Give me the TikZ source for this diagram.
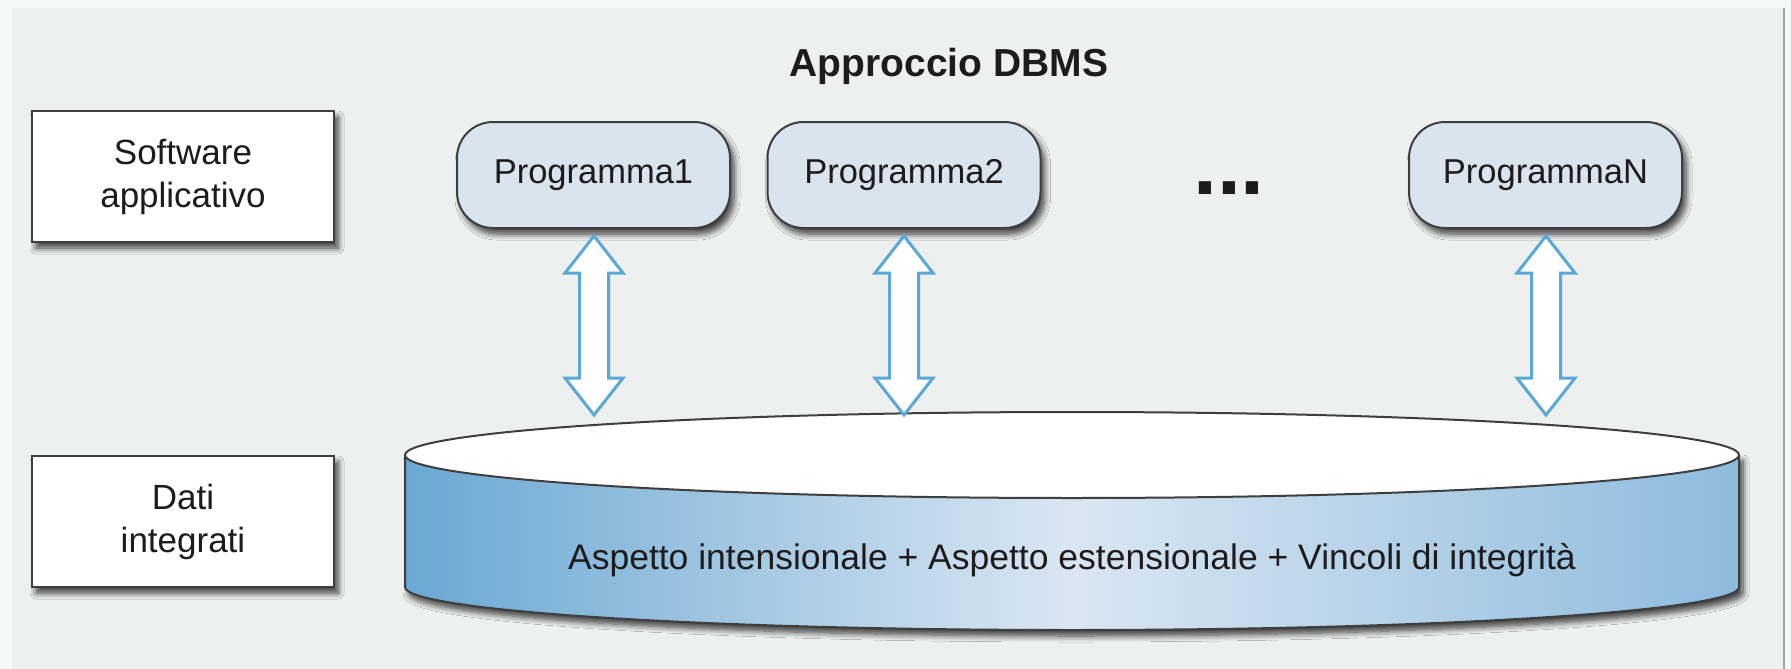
\documentclass[tikz,border=0pt]{standalone}
\usepackage{fontspec}
\setmainfont{Liberation Sans}
\usetikzlibrary{calc,shadows.blur}
\definecolor{outerbg}{HTML}{F6F7F7}
\definecolor{panelbg}{HTML}{EEF0EF}
\definecolor{progfill}{HTML}{D9E4EF}
\definecolor{arrowblue}{HTML}{5AA8D5}
\definecolor{txt}{HTML}{1E1B1C}
\definecolor{edgecol}{HTML}{3E3E3E}
\definecolor{cylleft}{HTML}{6AA8D3}
\definecolor{cylmid}{HTML}{DAE6F2}
\definecolor{cylright}{HTML}{8DBBDD}
\definecolor{rimcol}{HTML}{A3A5A5}
\newcommand\dblarrowpath[2]{%
  \draw[dblarrow] let \p1=($(#1.south)+(0,7)$), \p2=(#2) in
  (\x2,\y1) -- (\x2+29pt,\y1-37pt) -- (\x2+14.5pt,\y1-37pt) -- (\x2+14.5pt,\y2+37pt)
  -- (\x2+29pt,\y2+37pt) -- (\x2,\y2) -- (\x2-29pt,\y2+37pt) -- (\x2-14.5pt,\y2+37pt)
  -- (\x2-14.5pt,\y1-37pt) -- (\x2-29pt,\y1-37pt) -- cycle;}
\begin{document}
\begin{tikzpicture}[x=1pt,y=-1pt,
  softshadow/.style={blur shadow={shadow xshift=4pt,shadow yshift=-6pt,shadow blur radius=6pt,shadow blur steps=8,shadow opacity=75}},
  labelbox/.style={draw=edgecol,line width=2.2pt,fill=white,minimum width=302pt,minimum height=131pt,
    align=center,inner sep=0pt,font=\fontsize{35}{43}\selectfont,text=txt,softshadow},
  progbox/.style={draw=edgecol,line width=2pt,fill=progfill,rounded corners=36pt,minimum width=273pt,
    minimum height=106pt,inner sep=0pt,font=\fontsize{34.5}{40}\selectfont,text=txt,softshadow},
  dblarrow/.style={draw=arrowblue,line width=3pt,fill=white,line join=miter},
  cylbody/.style={left color=cylleft,right color=cylright,middle color=cylmid,softshadow},
  cyledge/.style={draw=edgecol,line width=2pt},
  titlefont/.style={font=\bfseries\fontsize{39}{44}\selectfont,text=txt},
]
\useasboundingbox (0,0) rectangle (1791,669);
\fill[outerbg] (0,0) rectangle (1791,669);
\fill[panelbg] (12,8) rectangle (1783,669);
\draw[rimcol,line width=2.5pt] (1784,8) -- (1784,669);

% title
\node[titlefont,anchor=base] (title) at (949,77) {Approccio DBMS};

% left labels
\node[labelbox] (sw) at (183,176.5) {Software\\applicativo};
\node[labelbox] (dati) at (183,521.5) {Dati\\integrati};

% programs
\node[progbox] (p1) at (593.5,175) {Programma1};
\node[progbox] (p2) at (904,175) {Programma2};
\node[progbox] (pN) at (1545.5,175) {ProgrammaN};
\node[font=\bfseries\fontsize{86}{90}\selectfont,text=txt,anchor=base,inner sep=0pt] (dots) at (1229,194) {...};

% cylinder
\coordinate (cyl) at (1072,455);
\path[cylbody] (405,455) -- (405,587) arc[start angle=180,end angle=0,x radius=667,y radius=43] -- (1739,455) -- cycle;
\draw[cyledge] (405,455) -- (405,587) arc[start angle=180,end angle=0,x radius=667,y radius=43] -- (1739,455);
\draw[cyledge,fill=white] (cyl) ellipse[x radius=667,y radius=43];
\node[font=\fontsize{35.5}{40}\selectfont,text=txt,anchor=base] (cyltext) at (1072,569)
  {Aspetto intensionale + Aspetto estensionale + Vincoli di integrità};

% arrow end points on the cylinder top
\coordinate (t1) at (594,415);
\coordinate (t2) at (904,415);
\coordinate (tN) at (1546,415);
\dblarrowpath{p1}{t1}
\dblarrowpath{p2}{t2}
\dblarrowpath{pN}{tN}
\end{tikzpicture}
\end{document}
